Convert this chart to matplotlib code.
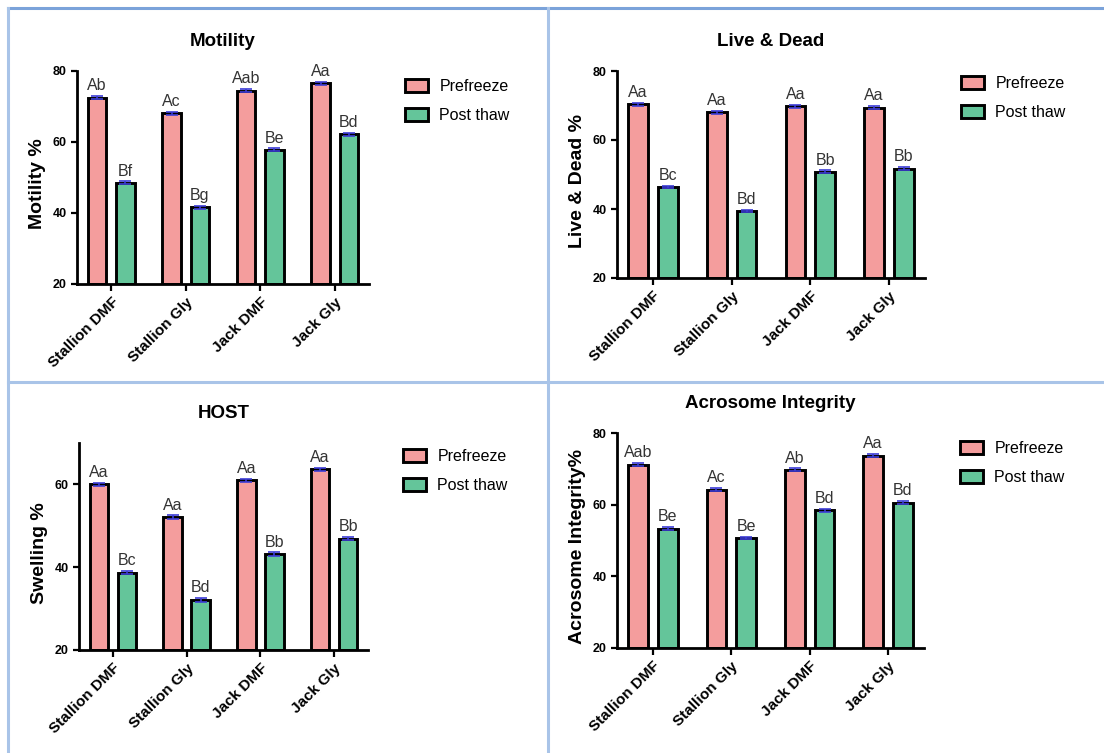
import matplotlib
matplotlib.use('Agg')
import matplotlib.pyplot as plt
import numpy as np
from matplotlib.lines import Line2D

plt.rcParams['font.family'] = ['Liberation Sans', 'DejaVu Sans']

# data
groups = ['Stallion DMF', 'Stallion Gly', 'Jack DMF', 'Jack Gly']
series_names = ['Prefreeze', 'Post thaw']

motility_pre = [72.5, 68.1, 74.5, 76.5]
motility_post = [48.5, 41.6, 57.8, 62.2]
motility_pre_lbl = ['Ab', 'Ac', 'Aab', 'Aa']
motility_post_lbl = ['Bf', 'Bg', 'Be', 'Bd']

live_pre = [70.4, 68.0, 69.8, 69.4]
live_post = [46.4, 39.4, 50.8, 51.7]
live_pre_lbl = ['Aa', 'Aa', 'Aa', 'Aa']
live_post_lbl = ['Bc', 'Bd', 'Bb', 'Bb']

host_pre = [60.0, 52.1, 61.0, 63.6]
host_post = [38.7, 32.1, 43.2, 46.9]
host_pre_lbl = ['Aa', 'Aa', 'Aa', 'Aa']
host_post_lbl = ['Bc', 'Bd', 'Bb', 'Bb']

acro_pre = [71.2, 64.2, 69.7, 73.7]
acro_post = [53.3, 50.7, 58.4, 60.6]
acro_pre_lbl = ['Aab', 'Ac', 'Ab', 'Aa']
acro_post_lbl = ['Be', 'Be', 'Bd', 'Bd']

err = [0.4, 0.4, 0.4, 0.4]

PINK = '#F49D9D'
GREEN = '#64C59A'
W, H = 1104, 753

fig = plt.figure(figsize=(W / 100, H / 100), dpi=100)


def px_box(l, r, t, b):
    return [l / W, 1 - b / H, (r - l) / W, (b - t) / H]


def panel(box, title, ylabel, pre, post, pre_lbl, post_lbl, ylim, yticks, leg_xy):
    ax = fig.add_axes(px_box(*box))
    x = np.arange(len(groups))
    off, bw = 0.19, 0.25
    for vals, lbls, sgn, col, name in [(pre, pre_lbl, -1, PINK, series_names[0]),
                                       (post, post_lbl, 1, GREEN, series_names[1])]:
        ax.bar(x + sgn * off, np.array(vals) - ylim[0], bw, bottom=ylim[0],
               color=col, edgecolor='black', linewidth=2.1, label=name, zorder=2)
        ax.errorbar(x + sgn * off, vals, yerr=err, fmt='none', ecolor='#3C3CD6',
                    elinewidth=1.2, capsize=4, capthick=1.2, zorder=3)
        for xi, v, e, t in zip(x + sgn * off, vals, err, lbls):
            ax.annotate(t, (xi, v + e), xytext=(0, 2), textcoords='offset points',
                        ha='center', va='bottom', fontsize=11.5, color='#333333')
    ax.set_xlim(-0.46, 3.46)
    ax.set_ylim(*ylim)
    ax.set_yticks(yticks)
    ax.set_xticks(x)
    ax.set_xticklabels(groups, rotation=45, ha='right', rotation_mode='anchor',
                       fontsize=11, fontweight='bold')
    for t in ax.get_yticklabels():
        t.set_fontweight('bold')
        t.set_fontsize(9)
    ax.tick_params(axis='both', width=1.6, length=4, direction='out')
    ax.tick_params(axis='x', length=5, pad=3)
    for s in ['top', 'right']:
        ax.spines[s].set_visible(False)
    for s in ['left', 'bottom']:
        ax.spines[s].set_linewidth(2)
    ax.set_title(title, fontsize=13.5, fontweight='bold', pad=18)
    ax.set_ylabel(ylabel, fontsize=14, fontweight='bold', labelpad=5)
    ax.yaxis.label.set_y(0.47)
    ax.legend(loc='center left', bbox_to_anchor=(leg_xy[0] / W, 1 - leg_xy[1] / H),
              bbox_transform=fig.transFigure, frameon=False, fontsize=11.5,
              handlelength=1.45, handleheight=0.85, handletextpad=0.7,
              labelspacing=0.85, borderpad=0, borderaxespad=0)
    return ax


panel((77, 369, 71, 284), 'Motility', 'Motility %', motility_pre, motility_post,
      motility_pre_lbl, motility_post_lbl, (20, 80), [20, 40, 60, 80], (405, 101))
panel((617, 925, 71, 278), 'Live & Dead', 'Live & Dead %', live_pre, live_post,
      live_pre_lbl, live_post_lbl, (20, 80), [20, 40, 60, 80], (961, 98))
panel((79, 368, 443, 650), 'HOST', 'Swelling %', host_pre, host_post,
      host_pre_lbl, host_post_lbl, (20, 70), [20, 40, 60], (403, 471))
panel((617, 924, 433, 648), 'Acrosome Integrity', 'Acrosome Integrity%', acro_pre, acro_post,
      acro_pre_lbl, acro_post_lbl, (20, 80), [20, 40, 60, 80], (960, 463))

# table-like frame around the panels
frame = '#A9C4E8'
for xs, ys, c in [((8, W), (8, 8), '#7BA3DA'), ((8, 8), (8, H), frame),
                  ((548, 548), (8, H), frame), ((8, W), (382, 382), frame)]:
    fig.add_artist(Line2D([v / W for v in xs], [1 - v / H for v in ys],
                          color=c, linewidth=2.2, transform=fig.transFigure))

fig.savefig('out.png', dpi=100)
